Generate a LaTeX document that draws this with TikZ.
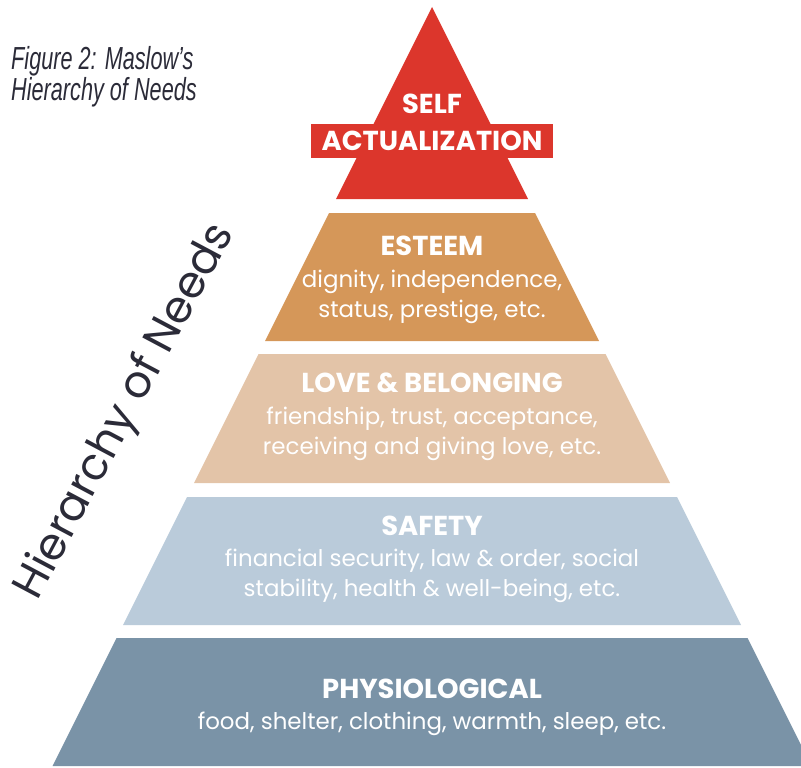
\documentclass[tikz,border=0pt]{standalone}
\usepackage{fontspec}
\setmainfont{Poppins}
\newfontfamily\capfont[FakeStretch=0.68]{Liberation Sans}
\definecolor{selfred}{HTML}{DC362C}
\definecolor{esteembrown}{HTML}{D59759}
\definecolor{lovesand}{HTML}{E3C4A8}
\definecolor{safetyblue}{HTML}{BACBDA}
\definecolor{physioblue}{HTML}{7A93A7}
\definecolor{inkgray}{HTML}{2B2B38}
\tikzset{
  head/.style={text=white, font=\fontsize{27.5}{30}\selectfont\bfseries, anchor=base},
  body/.style={text=white, font=\fontsize{23}{30}\selectfont, align=center, anchor=base},
}
\begin{document}
\begin{tikzpicture}[x=1bp,y=-1bp]
\useasboundingbox (0,0) rectangle (801,768);
\clip (0,0) rectangle (801,768);
% pyramid
\fill[selfred] (432,7) -- (528,199) -- (336,199) -- cycle;
\fill[selfred] (311,124) rectangle (553,158);
\fill[esteembrown] (329,213) -- (535,213) -- (599,341) -- (265,341) -- cycle;
\fill[lovesand] (258.5,354) -- (605.5,354) -- (670,483) -- (194,483) -- cycle;
\fill[safetyblue] (187,497) -- (677,497) -- (741,625) -- (123,625) -- cycle;
\fill[physioblue] (116.5,638) -- (747.5,638) -- (811.5,766) -- (52.5,766) -- cycle;
% labels (base of a two-line node = its last line)
\node[head] (self) at (432,113) {SELF};
\node[head] (actual) at (432,150) {ACTUALIZATION};
\node[head] (esteem) at (432,255) {ESTEEM};
\node[body] (esteemtxt) at (432,317) {dignity, independence,\\status, prestige, etc.};
\node[head] (love) at (432,392) {LOVE \& BELONGING};
\node[body] (lovetxt) at (432,454) {friendship, trust, acceptance,\\receiving and giving love, etc.};
\node[head] (safety) at (432,535) {SAFETY};
\node[body] (safetytxt) at (432,596) {financial security, law \& order, social\\stability, health \& well-being, etc.};
\node[head] (physio) at (432,698) {PHYSIOLOGICAL};
\node[body] (physiotxt) at (432,729) {food, shelter, clothing, warmth, sleep, etc.};
% captions
\node[text=inkgray, font=\capfont\itshape\fontsize{32}{31}\selectfont, align=left, anchor=base west, inner sep=0pt] (fig) at (11,100) {Figure 2: Maslow’s\\Hierarchy of Needs};
\node[text=inkgray, font=\fontsize{44.5}{48}\selectfont, rotate=62] (hier) at (126,412) {Hierarchy of Needs};
\end{tikzpicture}
\end{document}
